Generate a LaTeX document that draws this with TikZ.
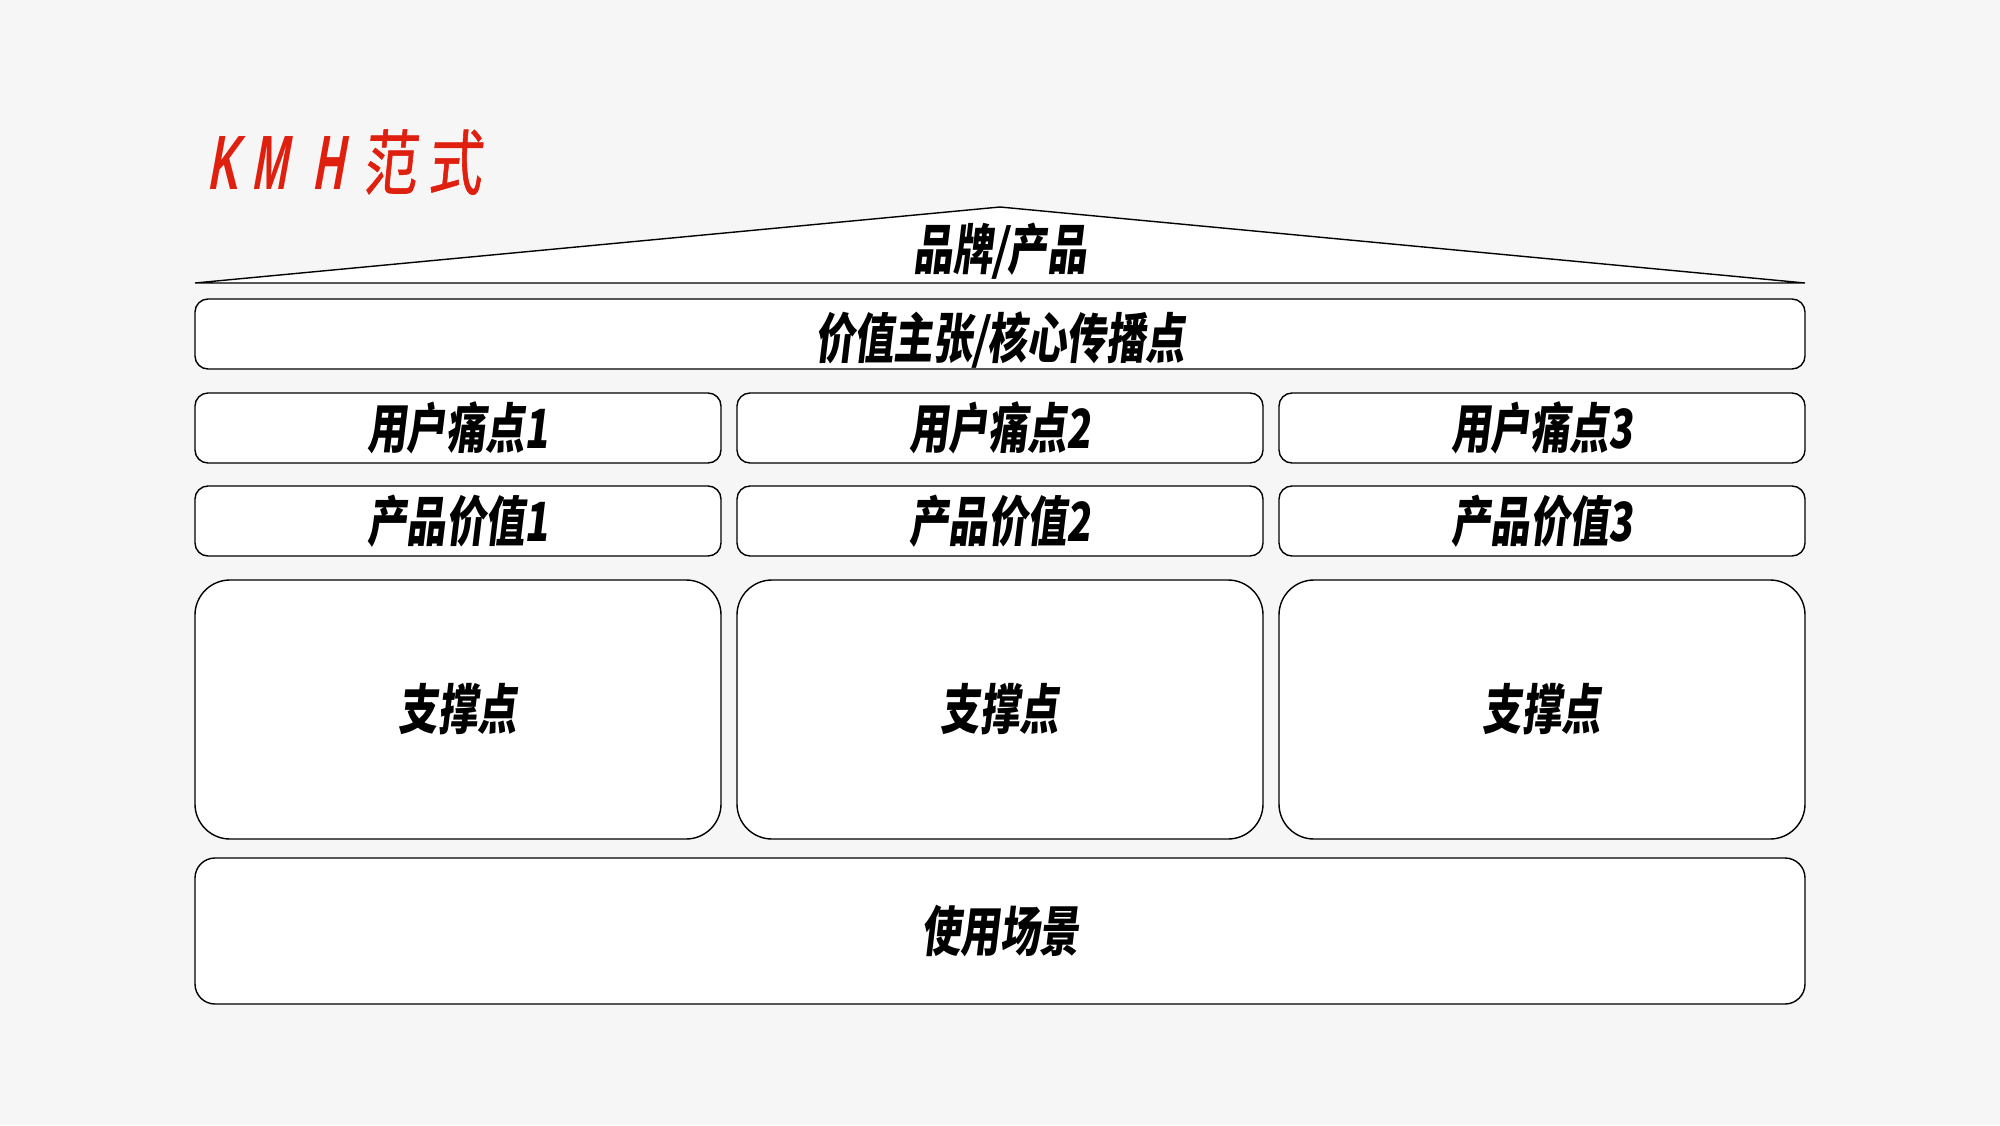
\documentclass[tikz,border=0pt]{standalone}
\usepackage{fontspec}
\newfontfamily\cjk[FakeSlant=0.12,FakeStretch=0.73]{Noto Sans CJK SC}
\newfontfamily\cjktitle[FakeSlant=0.1,FakeStretch=0.76,FakeBold=0.8]{Noto Sans CJK SC}
\newfontfamily\lattitle[FakeSlant=0.18,FakeStretch=0.55]{Liberation Sans}
\definecolor{bg}{HTML}{F6F6F6}
\definecolor{kred}{HTML}{E0200F}
\tikzset{
  box/.style={draw=black, fill=white, line width=1.4pt, rounded corners=13pt, inner sep=0pt,
    minimum width=526pt, minimum height=70pt, font=\cjk\bfseries\fontsize{54}{60}\selectfont},
  widebox/.style={box, minimum width=1610pt},
  tallbox/.style={box, minimum height=259pt, rounded corners=35pt},
  lbl/.style={inner sep=0pt, font=\cjk\bfseries\fontsize{54}{60}\selectfont}
}
\begin{document}
\begin{tikzpicture}[x=1pt,y=-1pt]
\fill[bg] (0,0) rectangle (2000,1125);
\useasboundingbox (0,0) rectangle (2000,1125);

\node[anchor=base west, inner sep=0pt, text=kred] (title) at (207,189)
  {\fontsize{77}{80}\lattitle\bfseries K\kern14pt M\kern25pt H\kern20pt{\cjktitle\mdseries\fontsize{71}{80}\selectfont 范\kern11pt 式}};

\coordinate (tl) at (195,283);
\coordinate (ta) at (1000,207);
\coordinate (tr) at (1805,283);
\draw[line width=1.4pt, fill=white, line join=miter] (tl) -- (ta) -- (tr) -- cycle;
\node[lbl] (brand) at (1000,251) {品牌/产品};

\node[widebox, label={[lbl, yshift=-6pt]center:价值主张/核心传播点}] (vp) at (1000,334) {};

\node[box] (p1) at (458,428) {用户痛点1};
\node[box] (p2) at (1000,428) {用户痛点2};
\node[box] (p3) at (1542,428) {用户痛点3};

\node[box] (v1) at (458,521) {产品价值1};
\node[box] (v2) at (1000,521) {产品价值2};
\node[box] (v3) at (1542,521) {产品价值3};

\node[tallbox] (s1) at (458,709.5) {支撑点};
\node[tallbox] (s2) at (1000,709.5) {支撑点};
\node[tallbox] (s3) at (1542,709.5) {支撑点};

\node[widebox, minimum height=146pt, rounded corners=20pt] (scene) at (1000,931) {使用场景};
\end{tikzpicture}
\end{document}
